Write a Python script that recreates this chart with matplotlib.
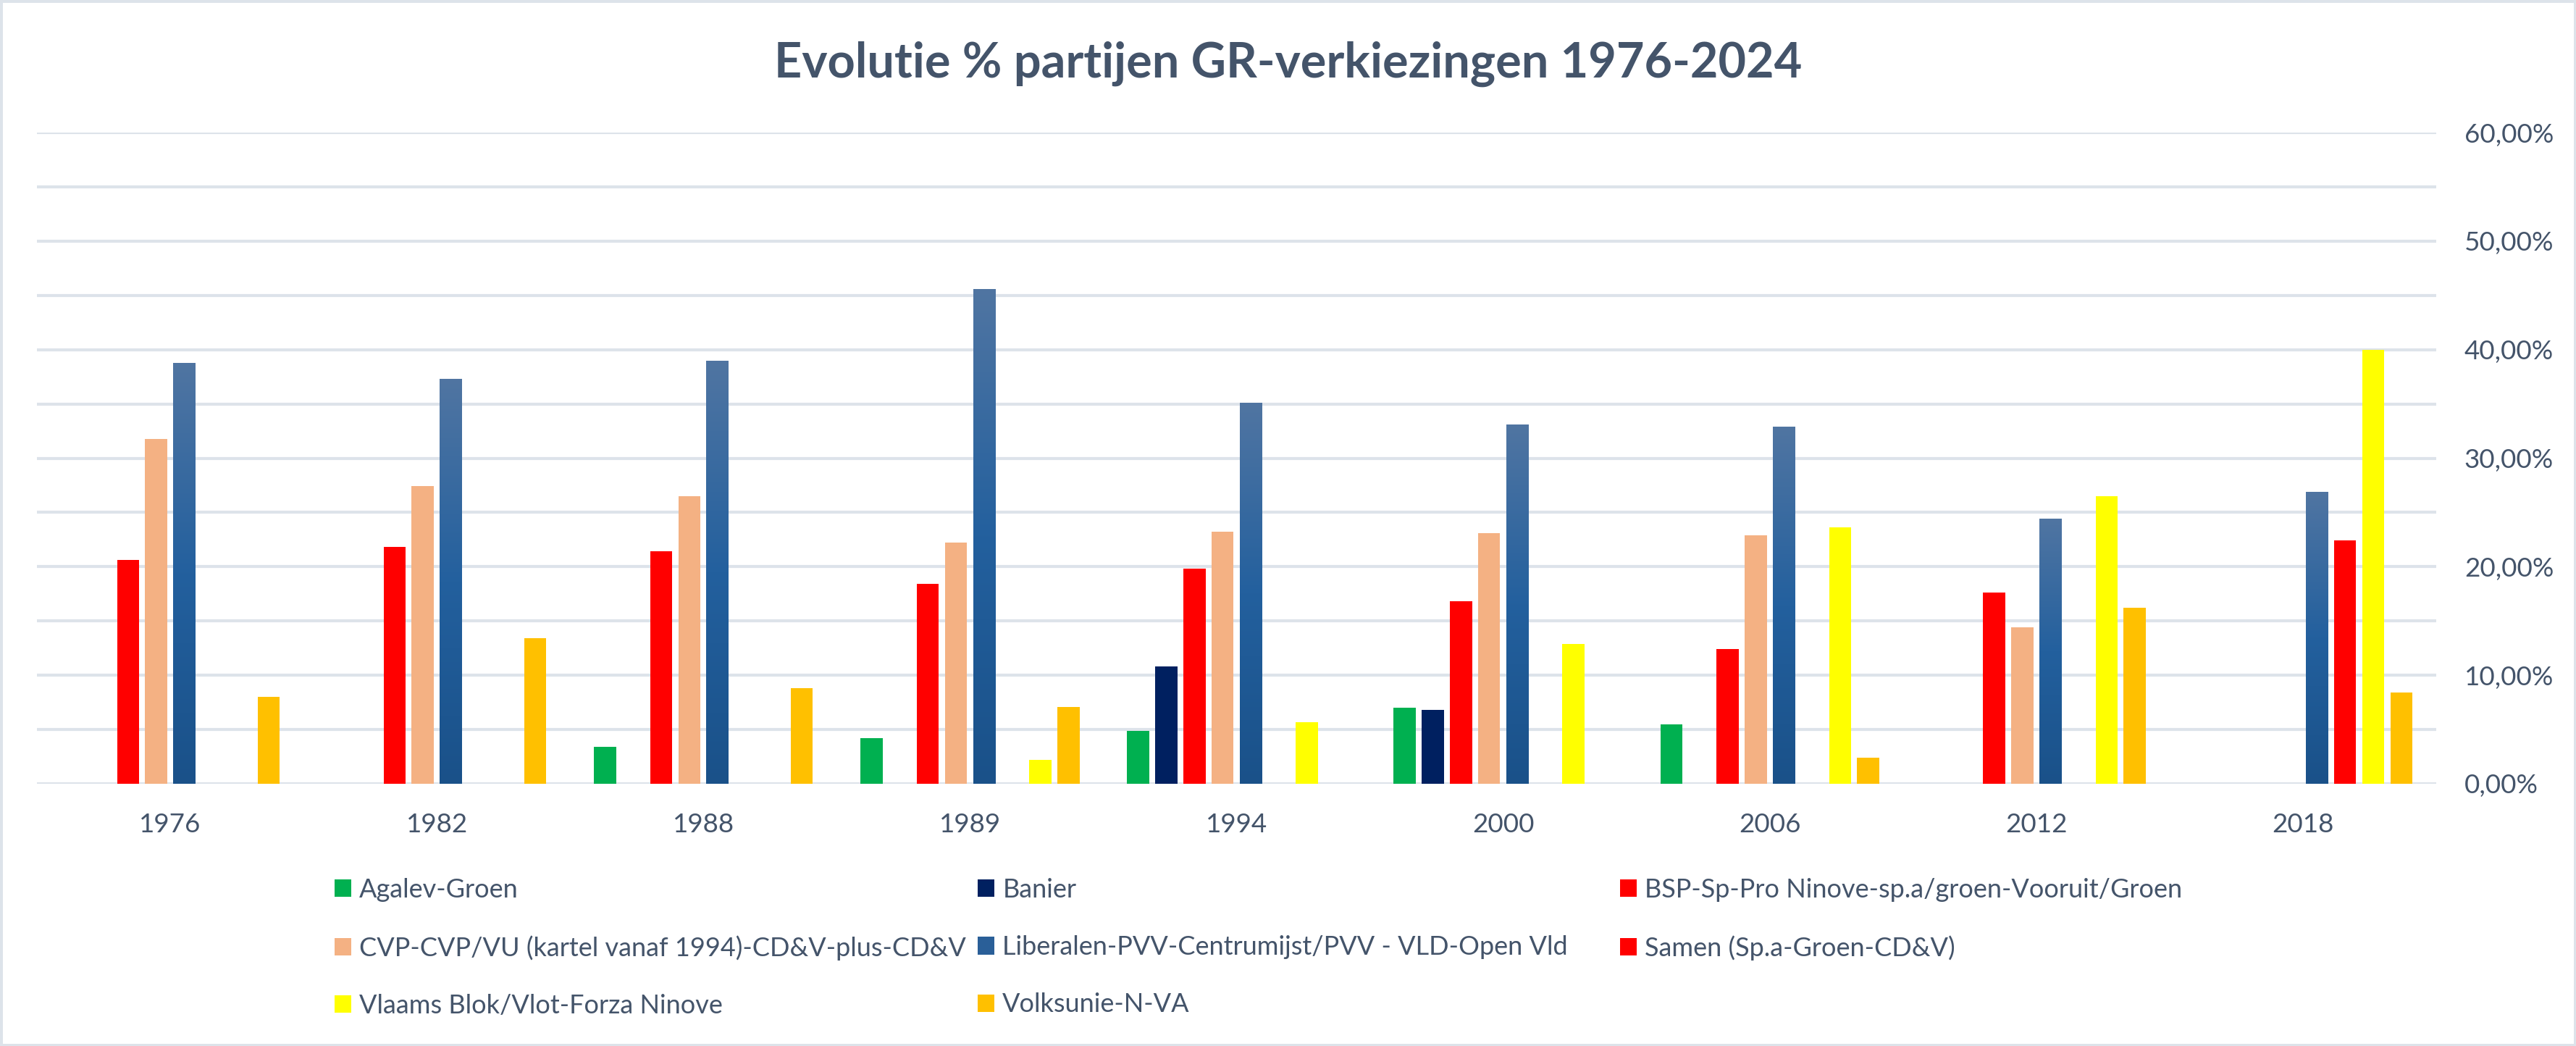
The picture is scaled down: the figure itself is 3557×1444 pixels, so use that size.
import numpy as np
import matplotlib
matplotlib.use("Agg")
import matplotlib.pyplot as plt
from matplotlib.colors import LinearSegmentedColormap
from matplotlib.patches import Rectangle
from matplotlib.ticker import FuncFormatter, MultipleLocator

nan = np.nan

# verkiezingsjaren (categorieen)
years = ['1976', '1982', '1988', '1989', '1994', '2000', '2006', '2012', '2018']

# percentages per partij
agalev = [nan, nan, 3.4, 4.2, 4.9, 7.0, 5.5, nan, nan]
banier = [nan, nan, nan, nan, 10.8, 6.8, nan, nan, nan]
bsp = [20.6, 21.8, 21.4, 18.4, 19.8, 16.8, 12.4, 17.6, nan]
cvp = [31.8, 27.4, 26.5, 22.2, 23.2, 23.1, 22.9, 14.4, nan]
liberalen = [38.8, 37.3, 39.0, 45.6, 35.1, 33.1, 32.9, 24.4, 26.9]
samen = [nan, nan, nan, nan, nan, nan, nan, nan, 22.4]
vlaams_blok = [nan, nan, nan, 2.2, 5.7, 12.9, 23.6, 26.5, 40.0]
volksunie = [8.0, 13.4, 8.8, 7.1, nan, nan, 2.4, 16.2, 8.4]

series_labels = [
    'Agalev-Groen',
    'Banier',
    'BSP-Sp-Pro Ninove-sp.a/groen-Vooruit/Groen',
    'CVP-CVP/VU (kartel vanaf 1994)-CD&V-plus-CD&V',
    'Liberalen-PVV-Centrumijst/PVV - VLD-Open Vld',
    'Samen (Sp.a-Groen-CD&V)',
    'Vlaams Blok/Vlot-Forza Ninove',
    'Volksunie-N-VA',
]
series_values = [agalev, banier, bsp, cvp, liberalen, samen, vlaams_blok, volksunie]
series_colors = ['#00B050', '#002060', '#FF0000', '#F4B183',
                 '#2A5F98', '#FF0000', '#FFFF00', '#FFC000']

y_ticks = [0, 10, 20, 30, 40, 50, 60]

text_color = '#44546A'
grid_color = '#DDE3EA'
plt.rcParams['font.family'] = ['Lato', 'DejaVu Sans']

W, H = 3557, 1444
fig = plt.figure(figsize=(W / 100, H / 100), dpi=100)
ax = fig.add_axes([51 / W, 1 - 1082 / H, (3364 - 51) / W, (1082 - 183) / H])

x = np.arange(len(years))
slot = 0.1055
bar_w = 0.083
containers = []
for i, (vals, col) in enumerate(zip(series_values, series_colors)):
    c = ax.bar(x + (i - 3.5) * slot, vals, width=bar_w, color=col, zorder=3)
    containers.append(c)

# verloop op de liberale balken
grad = LinearSegmentedColormap.from_list('lib', ['#1A5189', '#23609E', '#5075A2'])
for rect in containers[4]:
    bx, bw, bh = rect.get_x(), rect.get_width(), rect.get_height()
    im = ax.imshow(np.linspace(0, 1, 256).reshape(-1, 1), cmap=grad, origin='lower',
                   extent=[bx, bx + bw, 0, bh], aspect='auto', zorder=3.5,
                   interpolation='bilinear')
    im.set_clip_path(rect)

ax.set_xlim(-0.5, len(years) - 0.5)
ax.set_ylim(0, 60)
ax.set_xticks(x)
ax.set_xticklabels(years)
ax.yaxis.tick_right()
ax.set_yticks(y_ticks)
ax.yaxis.set_minor_locator(MultipleLocator(5))
ax.yaxis.set_major_formatter(FuncFormatter(lambda v, p: f'{v:.2f}%'.replace('.', ',')))
for lab in ax.get_yticklabels():
    lab.set_horizontalalignment('left')
ax.tick_params(axis='both', which='both', length=0, labelsize=26.5, labelcolor=text_color)
ax.tick_params(axis='x', pad=29)
ax.tick_params(axis='y', pad=28)
ax.grid(axis='y', which='both', color=grid_color, linewidth=3, zorder=0)
ax.set_axisbelow(True)
for s in ax.spines.values():
    s.set_visible(False)

fig.text(0.5, 1 - 107 / H, 'Evolutie % partijen GR-verkiezingen 1976-2024',
         ha='center', va='baseline', fontsize=48, fontweight='bold', color=text_color)

# legenda: drie kolommen, rij per rij gevuld
columns = [[0, 3, 6], [1, 4, 7], [2, 5]]
col_x = [462, 1350, 2237]
for idx, cx in zip(columns, col_x):
    fig.legend([containers[j] for j in idx], [series_labels[j] for j in idx],
               loc='upper left', bbox_to_anchor=(cx / W, 1 - 1212 / H),
               frameon=False, fontsize=26, labelcolor=text_color,
               handlelength=0.65, handleheight=0.65, handletextpad=0.3,
               labelspacing=1.28, borderpad=0, borderaxespad=0)

fig.patches.append(Rectangle((0, 0), 1, 1, transform=fig.transFigure, fill=False,
                             edgecolor=grid_color, linewidth=5, zorder=10))

fig.savefig('out.png', dpi=100, facecolor='white')
